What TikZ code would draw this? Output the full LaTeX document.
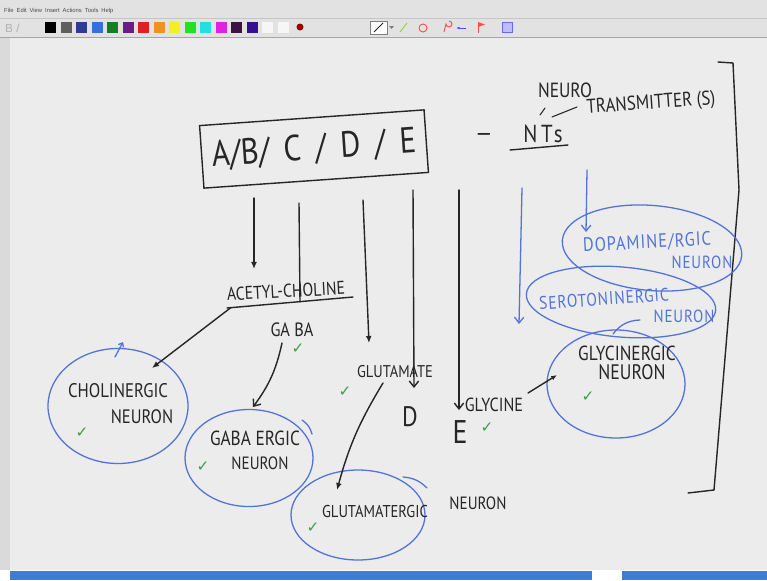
\documentclass[tikz,border=0pt]{standalone}
\usepackage{fontspec}
\usetikzlibrary{arrows.meta, shapes.geometric, calc}
\newfontfamily\handfont[FakeStretch=0.85]{PT Sans}
\newfontfamily\bluehand[FakeStretch=0.85, LetterSpace=5]{PT Sans}
\newfontfamily\checkfont{DejaVu Sans}
\newfontfamily\menufont{Liberation Sans}
\newcommand{\hw}[1]{\handfont\fontsize{#1}{#1}\selectfont}
\newcommand{\bhw}[1]{\bluehand\fontsize{#1}{#1}\selectfont}
\definecolor{inkblack}{HTML}{262626}
\definecolor{penblue}{HTML}{5274D8}
\definecolor{tickgreen}{HTML}{3E9E47}
\definecolor{board}{HTML}{ECECEC}
\definecolor{margin}{HTML}{DADADA}
\definecolor{toolbar}{HTML}{E2E2E2}
\definecolor{barblue}{HTML}{3C7DD8}
\definecolor{sw1}{HTML}{000000}
\definecolor{sw2}{HTML}{5E5E5E}
\definecolor{sw3}{HTML}{2E3A94}
\definecolor{sw4}{HTML}{3370E0}
\definecolor{sw5}{HTML}{118024}
\definecolor{sw6}{HTML}{6E1A86}
\definecolor{sw7}{HTML}{E02020}
\definecolor{sw8}{HTML}{F09222}
\definecolor{sw9}{HTML}{F2F020}
\definecolor{sw10}{HTML}{22E026}
\definecolor{sw11}{HTML}{22E0E0}
\definecolor{sw12}{HTML}{E022E0}
\definecolor{sw13}{HTML}{3E1242}
\definecolor{sw14}{HTML}{34108E}
\definecolor{sw15}{HTML}{F6F6F6}
\definecolor{sw16}{HTML}{F6F6F6}
\tikzset{
  ink/.style={draw=inkblack, line width=1.2pt, line cap=round, line join=round},
  bink/.style={draw=penblue, line width=1.1pt, line cap=round, line join=round},
  arr/.style={ink, -{Latex[length=6pt, width=5pt]}},
  barb/.style={ink, -{Straight Barb[length=5pt, width=8pt]}},
  bbarb/.style={bink, -{Straight Barb[length=5pt, width=8pt]}},
  txt/.style={font={\hw{#1}}, text=inkblack, inner sep=0pt},
  txt/.default=15,
  btxt/.style={font={\bhw{#1}}, text=penblue, inner sep=0pt},
  btxt/.default=16,
  neuron/.style={ellipse, draw=penblue, line width=1.1pt, inner sep=0pt},
  okmark/.style={font={\checkfont\fontsize{13}{13}\selectfont}, text=tickgreen, inner sep=0pt},
  menu/.style={font={\menufont\fontsize{5}{6}\selectfont}, text=black!70, inner sep=0pt, anchor=west}
}

\begin{document}
\begin{tikzpicture}[x=0.03cm, y=-0.03cm]
  \useasboundingbox (0,0) rectangle (767,580);
  % window frame
  \fill[toolbar] (0,0) rectangle (767,38);
  \draw[gray!45] (0,18) -- (767,18);
  \draw[gray!70] (0,37.5) -- (767,37.5);
  \node[menu] (menubar) at (4,11) {File\enspace Edit\enspace View\enspace Insert\enspace Actions\enspace Tools\enspace Help};
  \node[menu, text=black!30, font={\menufont\fontsize{10}{10}\selectfont}] (fmt) at (5,28) {B /};
  \foreach \i in {1,...,16}
    \fill[sw\i] ({45+15.5*(\i-1)},22) rectangle ++(11,11);
  \fill[red!60!black] (300,27) circle (3.5);
  \draw[gray, fill=white] (370,21) rectangle (387,34);
  \draw[inkblack, thick] (374,32) -- (383,23);
  \fill[gray] (389,26) -- (394,26) -- (391.5,29) -- cycle;
  \draw[yellow!60!green, thick] (400,32) -- (407,23);
  \draw[red!70, thick] (423,28) circle (4);
  \draw[red!70, thick] (444,32) -- (446,24) arc (180:-90:3);
  \draw[blue!70, thick, -{Latex[length=3pt]}] (466,28) -- (456,28);
  \draw[red!70, thick] (478,33) -- (478,22);
  \fill[red!70] (478,22) -- (485,24.5) -- (478,27) -- cycle;
  \fill[blue!25] (502,22) rectangle (512,32);
  \draw[blue!60] (502,22) rectangle (512,32);
  \fill[board] (0,38) rectangle (767,570);
  \fill[margin] (0,38) rectangle (10,570);
  \fill[barblue] (10,571) rectangle (592,580);
  \fill[barblue] (622,571) rectangle (767,580);

  % letters and the neurotransmitters
  \node[draw=inkblack, line width=1.2pt, rotate=4, minimum width=6.75cm,
        minimum height=1.88cm, txt=31] (abcde) at (314,149)
        {A/B/\hspace{5pt} C\hspace{5pt} /\hspace{5pt} D\hspace{5pt} /\hspace{5pt} E};
  \node[txt=21] (dash) at (484,137) {—};
  \node[txt=21] (nts) at (543,134) {N\hspace{3pt}T\hspace{1pt}s};
  \draw[ink] (510,150) -- (568,145);
  \node[txt=17.5] (neuro) at (565,90) {NEURO};
  \node[txt=17, rotate=4] (transm) at (651,104) {TRANSMITTER (S)};
  \draw[ink, line width=0.9pt] (540,115) -- (545,108);
  \draw[ink, line width=0.9pt] (552,117) -- (577,107);
  \draw[ink] (718,62) -- (733,63) -- (739,190) -- (714,490) -- (688,493);

  % lines down from the box
  \coordinate (s1) at (254,198); \coordinate (e1) at (254,269);
  \coordinate (s2) at (299,203); \coordinate (e2) at (300,302);
  \coordinate (s3) at (363,200); \coordinate (e3) at (369,343);
  \coordinate (s4) at (413,190); \coordinate (e4) at (414,388);
  \coordinate (s5) at (459,190); \coordinate (e5) at (459,410);
  \coordinate (s6) at (522,188); \coordinate (e6) at (519,324);
  \coordinate (s7) at (587,170); \coordinate (e7) at (586,232);
  \draw[arr] (s1) -- (e1);
  \draw[ink] (s2) -- (e2);
  \draw[arr] (s3) -- (e3);
  \draw[barb] (s4) -- (e4);
  \draw[barb] (s5) -- (e5);
  \draw[bbarb] (s6) -- (e6);
  \draw[bbarb] (s7) -- (e7);

  % acetylcholine
  \node[txt=15.8, rotate=3] (ach) at (286,291) {ACETYL-CHOLINE};
  \coordinate (ulA) at (227,308); \coordinate (ulB) at (353,297);
  \draw[ink] (ulA) -- (ulB);
  \node[neuron, minimum width=4.2cm, minimum height=3.45cm] (cholN) at (118,406) {};
  \node[txt=16.8] (cholA) at (118,391) {CHOLINERGIC};
  \node[txt=16.6] (cholB) at (142,417) {NEURON};
  \node[okmark] (okchol) at (82,433) {✓};
  \coordinate (cholIn) at (152,368);
  \draw[arr] ($(ulA)!0.03!(ulB)$) -- (cholIn);
  \draw[bink, -{Straight Barb[length=3pt, width=5pt]}] (115,357) -- (123,342);

  % gaba
  \node[txt=16.4] (gaba) at (292,330) {GA BA};
  \node[okmark] (okgaba) at (298,349) {✓};
  \node[neuron, minimum width=3.84cm, minimum height=2.91cm] (gabaN) at (249,458) {};
  \node[txt=17.4] (gabaA) at (255,438) {GABA ERGIC};
  \node[txt=15.2] (gabaB) at (260,463) {NEURON};
  \node[okmark] (okgabaN) at (203,467) {✓};
  \coordinate (gabaTail) at (282,343); \coordinate (gabaIn) at (253,407);
  \draw[barb] (gabaTail) to[bend left=12] (gabaIn);
  \draw[bink] (302,420) to[bend left=20] (312,434);

  % glutamate
  \node[txt=14.5] (glu) at (395,372) {GLUTAMATE};
  \node[okmark] (okglu) at (345,392) {✓};
  \node[neuron, minimum width=4.02cm, minimum height=2.7cm] (gluN) at (358,515) {};
  \node[txt=14.6] (gluA) at (375,511) {GLUTAMATERGIC};
  \node[txt=15.2] (gluB) at (478,503) {NEURON};
  \node[okmark] (okgluN) at (313,528) {✓};
  \coordinate (gluTail) at (383,383); \coordinate (gluIn) at (337,490);
  \draw[arr] (gluTail) to[bend right=8] (gluIn);
  \draw[bink] (403,477) to[bend left=20] (427,488);

  % D, E and glycine
  \node[txt=24] (dnode) at (410,417) {D};
  \node[txt=28] (enode) at (460,432) {E};
  \node[okmark] (oke) at (487,428) {✓};
  \node[txt=16.2] (gly) at (494,405) {GLYCINE};
  \node[neuron, minimum width=4.14cm, minimum height=3.24cm] (glyN) at (616,384) {};
  \node[txt=17.4] (glyA) at (627,353) {GLYCINERGIC};
  \node[txt=17.9] (glyB) at (632,372) {NEURON};
  \node[okmark] (okglyN) at (588,397) {✓};
  \coordinate (glyTail) at (528,393); \coordinate (glyIn) at (557,375);
  \draw[ink, -{Latex[length=5pt, width=4pt]}] (glyTail) -- (glyIn);
  \draw[bink] (613,334) to[bend left=25] (640,320);

  % serotonin and dopamine
  \node[neuron, rotate=-5, minimum width=5.7cm, minimum height=2.1cm] (seroN) at (621,302) {};
  \node[btxt=15.5, rotate=4] (seroA) at (604,299) {SEROTONINERGIC};
  \node[btxt=15] (seroB) at (684,316) {NEURON};
  \node[neuron, rotate=-5, minimum width=5.4cm, minimum height=2.55cm] (dopaN) at (652,248) {};
  \node[btxt=16.5, rotate=3] (dopaA) at (647,243) {DOPAMINE/RGIC};
  \node[btxt=15] (dopaB) at (702,262) {NEURON};
\end{tikzpicture}
\end{document}
